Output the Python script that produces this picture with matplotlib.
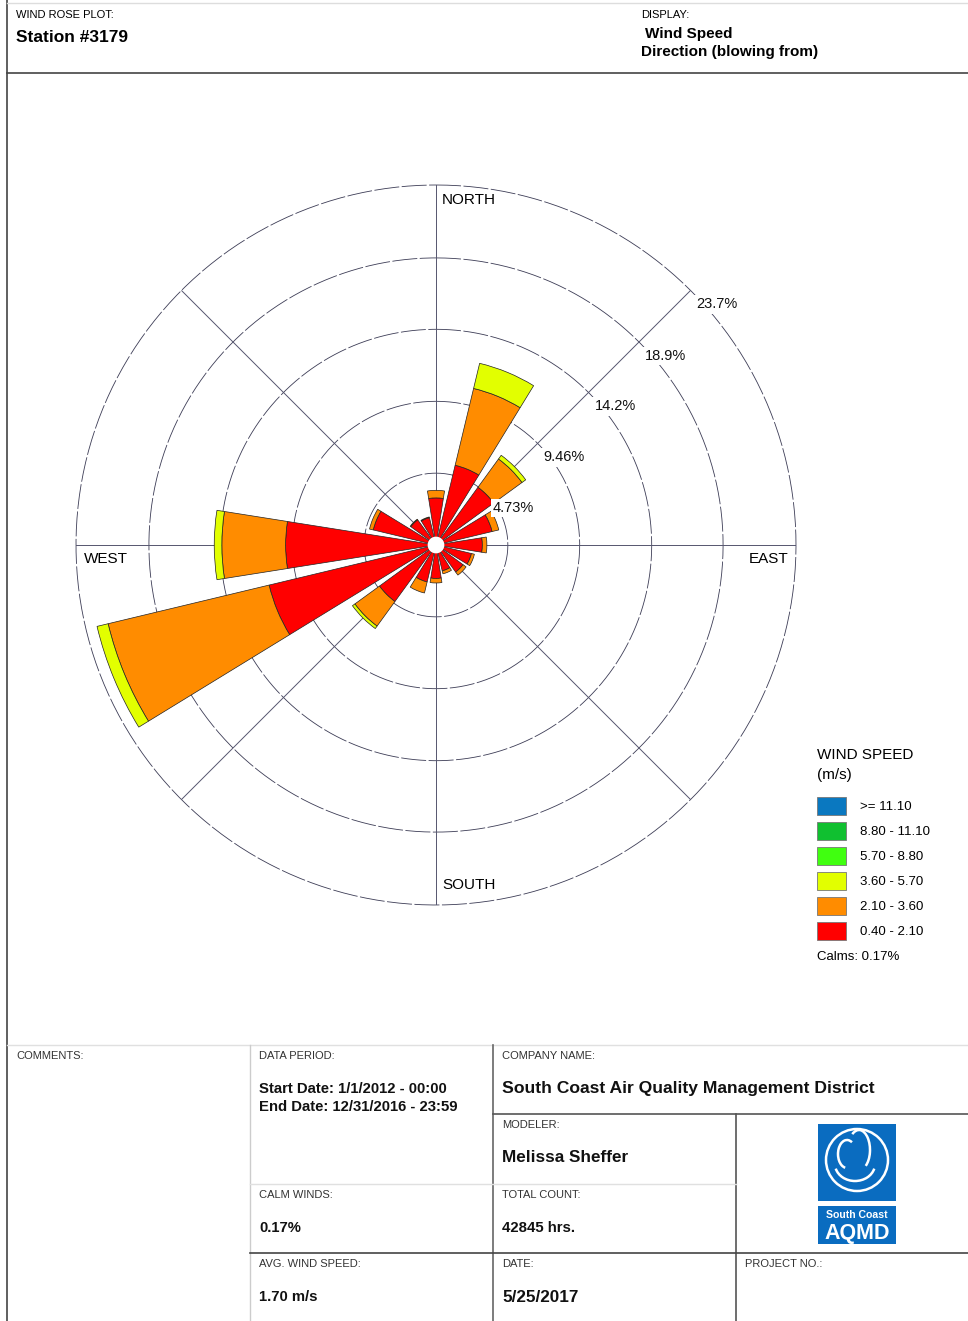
import matplotlib
matplotlib.use("Agg")
import numpy as np
import matplotlib.pyplot as plt
from matplotlib.patches import Rectangle, Ellipse, Arc
from matplotlib.lines import Line2D

# wind directions (compass degrees, blowing from)
directions = ["N", "NNE", "NE", "ENE", "E", "ESE", "SE", "SSE",
              "S", "SSW", "SW", "WSW", "W", "WNW", "NW", "NNW"]
angles_deg = [0, 22.5, 45, 67.5, 90, 112.5, 135, 157.5,
              180, 202.5, 225, 247.5, 270, 292.5, 315, 337.5]

# frequency (%) per speed class
freq_040_210 = [3.1, 5.4, 4.7, 3.8, 3.05, 2.4, 2.2, 1.75, 2.2, 2.5, 4.6, 11.3, 9.9, 4.25, 2.05, 1.85]
freq_210_360 = [0.5, 5.2, 2.3, 0.45, 0.3, 0.2, 0.25, 0.2, 0.3, 0.75, 2.0, 10.9, 4.2, 0.25, 0.05, 0.05]
freq_360_570 = [0, 1.7, 0.3, 0, 0, 0, 0, 0, 0, 0, 0.2, 0.75, 0.5, 0, 0, 0]
freq_570_880 = [0] * 16
freq_880_1110 = [0] * 16
freq_ge_1110 = [0] * 16

speed_labels = ["0.40 - 2.10", "2.10 - 3.60", "3.60 - 5.70", "5.70 - 8.80", "8.80 - 11.10", ">= 11.10"]
speed_colors = ["#ff0000", "#ff8c00", "#e2ff00", "#40ff10", "#10c030", "#0a78c0"]

ring_values = [4.73, 9.46, 14.2, 18.9, 23.7]
ring_labels = ["4.73%", "9.46%", "14.2%", "18.9%", "23.7%"]

W, H = 968, 1321
fig = plt.figure(figsize=(W / 100, H / 100), dpi=100)
plt.rcParams['font.family'] = ['Liberation Sans', 'DejaVu Sans']


def ftext(x, y, s, **kw):
    kw.setdefault("va", "center")
    fig.text(x / W, 1 - y / H, s, **kw)


def fline(x0, y0, x1, y1, color="#555555", lw=1.2):
    fig.add_artist(Line2D([x0 / W, x1 / W], [1 - y0 / H, 1 - y1 / H],
                          transform=fig.transFigure, color=color, lw=lw))


# ---- wind rose ----
cx, cy, R = 436, 545, 360
ax = fig.add_axes([(cx - R) / W, (H - cy - R) / H, 2 * R / W, 2 * R / H], projection="polar")
ax.set_theta_zero_location("N")
ax.set_theta_direction(-1)
ax.set_ylim(0, 23.7)
ax.grid(False)
ax.set_xticks([])
ax.set_yticks([])
ax.spines["polar"].set_visible(False)
ax.patch.set_alpha(0)

th_full = np.linspace(0, 2 * np.pi, 400)
for rv in ring_values:
    ax.plot(th_full, [rv] * len(th_full), color="#3c3c55", lw=0.6, ls=(0, (30, 3)), zorder=1,
            clip_on=False)
for a in range(0, 360, 45):
    ax.plot([np.radians(a)] * 2, [0, 23.7], color="#55556e", lw=0.7, zorder=1)

theta = np.radians(angles_deg)
width = np.radians(18)
bottom = np.zeros(16)
for vals, col in zip([freq_040_210, freq_210_360, freq_360_570, freq_570_880, freq_880_1110, freq_ge_1110],
                     speed_colors):
    vals = np.array(vals, dtype=float)
    mask = vals > 0
    ax.bar(theta[mask], vals[mask], width=width, bottom=bottom[mask], color=col,
           edgecolor="#222222", lw=0.5, zorder=3)
    bottom += vals
ax.bar(0, 0.55, width=2 * np.pi, bottom=0, color="white", edgecolor="none", zorder=4)

for rv, lab in zip(ring_values, ring_labels):
    ax.annotate(lab, xy=(np.radians(45), rv), xytext=(6, -7), textcoords="offset pixels",
                ha="left", va="top", fontsize=10.5, color="#111111", zorder=5,
                bbox=dict(boxstyle="square,pad=0.15", fc="white", ec="none"))

ftext(442, 200, "NORTH", fontsize=11, ha="left")
ftext(788, 559, "EAST", fontsize=11, ha="right")
ftext(442, 885, "SOUTH", fontsize=11, ha="left")
ftext(84, 559, "WEST", fontsize=11, ha="left")

# ---- legend ----
ftext(817, 755, "WIND SPEED", fontsize=11, ha="left")
ftext(817, 775, "(m/s)", fontsize=11, ha="left")
rows_y = [806, 831, 856, 881, 906, 931]
for yy, lab, col in zip(rows_y, speed_labels[::-1], speed_colors[::-1]):
    fig.add_artist(Rectangle((817 / W, 1 - (yy + 9) / H), 29 / W, 18 / H,
                             transform=fig.transFigure, fc=col, ec="#777777", lw=0.6))
    ftext(860, yy + 1, lab, fontsize=9.5, ha="left")
ftext(817, 957, "Calms: 0.17%", fontsize=9.5, ha="left")

# ---- frame and header ----
fline(7, 0, 7, H, color="#444444", lw=1.2)
fline(7, 3, W, 3, color="#dddddd", lw=1.0)
fline(7, 73, W, 73, color="#444444", lw=1.2)
ftext(16, 15, "WIND ROSE PLOT:", fontsize=8, ha="left")
ftext(16, 37, "Station #3179", fontsize=12.5, weight="bold", ha="left")
ftext(641, 15, "DISPLAY:", fontsize=8, ha="left")
ftext(645, 34, "Wind Speed", fontsize=11, weight="bold", ha="left")
ftext(641, 52, "Direction (blowing from)", fontsize=11, weight="bold", ha="left")

# ---- footer table ----
fline(7, 1045, W, 1045, color="#e0e0e0", lw=1.0)
fline(250, 1045, 250, H, color="#cccccc", lw=1.0)
fline(493, 1045, 493, H, color="#666666", lw=1.2)
fline(736, 1114, 736, H, color="#555555", lw=1.2)
fline(493, 1114, W, 1114, color="#555555", lw=1.2)
fline(250, 1184, 736, 1184, color="#e0e0e0", lw=1.0)
fline(250, 1253, W, 1253, color="#444444", lw=1.2)

small = dict(fontsize=8, ha="left", color="#333333")
big = dict(fontsize=12.3, ha="left", weight="bold", color="#111111")
mid = dict(fontsize=10.7, ha="left", weight="bold", color="#111111")
ftext(16, 1056, "COMMENTS:", **small)
ftext(259, 1056, "DATA PERIOD:", **small)
ftext(259, 1089, "Start Date: 1/1/2012 - 00:00", **mid)
ftext(259, 1107, "End Date: 12/31/2016 - 23:59", **mid)
ftext(502, 1056, "COMPANY NAME:", **small)
ftext(502, 1089, "South Coast Air Quality Management District", fontsize=12.6, ha="left",
      weight="bold", color="#111111")
ftext(502, 1125, "MODELER:", **small)
ftext(502, 1158, "Melissa Sheffer", **big)
ftext(259, 1195, "CALM WINDS:", **small)
ftext(259, 1228, "0.17%", **mid)
ftext(502, 1195, "TOTAL COUNT:", **small)
ftext(502, 1228, "42845 hrs.", **mid)
ftext(259, 1264, "AVG. WIND SPEED:", **small)
ftext(259, 1297, "1.70 m/s", **mid)
ftext(502, 1264, "DATE:", **small)
ftext(502, 1297, "5/25/2017", **big)
ftext(745, 1264, "PROJECT NO.:", **small)

# ---- logo ----
blue = "#0a6cc0"
fig.add_artist(Rectangle((818 / W, 1 - 1201 / H), 78 / W, 77 / H, transform=fig.transFigure,
                         fc=blue, ec="none"))
fig.add_artist(Rectangle((818 / W, 1 - 1244 / H), 78 / W, 38 / H, transform=fig.transFigure,
                         fc=blue, ec="none"))
lx, ly = 857, 1160
fig.add_artist(Ellipse((lx / W, 1 - ly / H), 62 / W, 62 / H, transform=fig.transFigure,
                       fc="none", ec="white", lw=1.8))
fig.add_artist(Arc(((lx - 2) / W, 1 - (ly + 4) / H), 40 / W, 34 / H, theta1=190, theta2=350,
                   transform=fig.transFigure, ec="white", lw=1.8))
fig.add_artist(Arc(((lx + 2) / W, 1 - (ly - 10) / H), 22 / W, 40 / H, theta1=-60, theta2=120,
                   transform=fig.transFigure, ec="white", lw=1.8))
fig.add_artist(Arc(((lx - 10) / W, 1 - (ly - 6) / H), 18 / W, 28 / H, theta1=60, theta2=260,
                   transform=fig.transFigure, ec="white", lw=1.8))
ftext(857, 1215, "South Coast", fontsize=7.6, ha="center", color="white", weight="bold")
ftext(857, 1233, "AQMD", fontsize=15.5, ha="center", color="white", weight="bold")

fig.savefig("out.png", dpi=100)
